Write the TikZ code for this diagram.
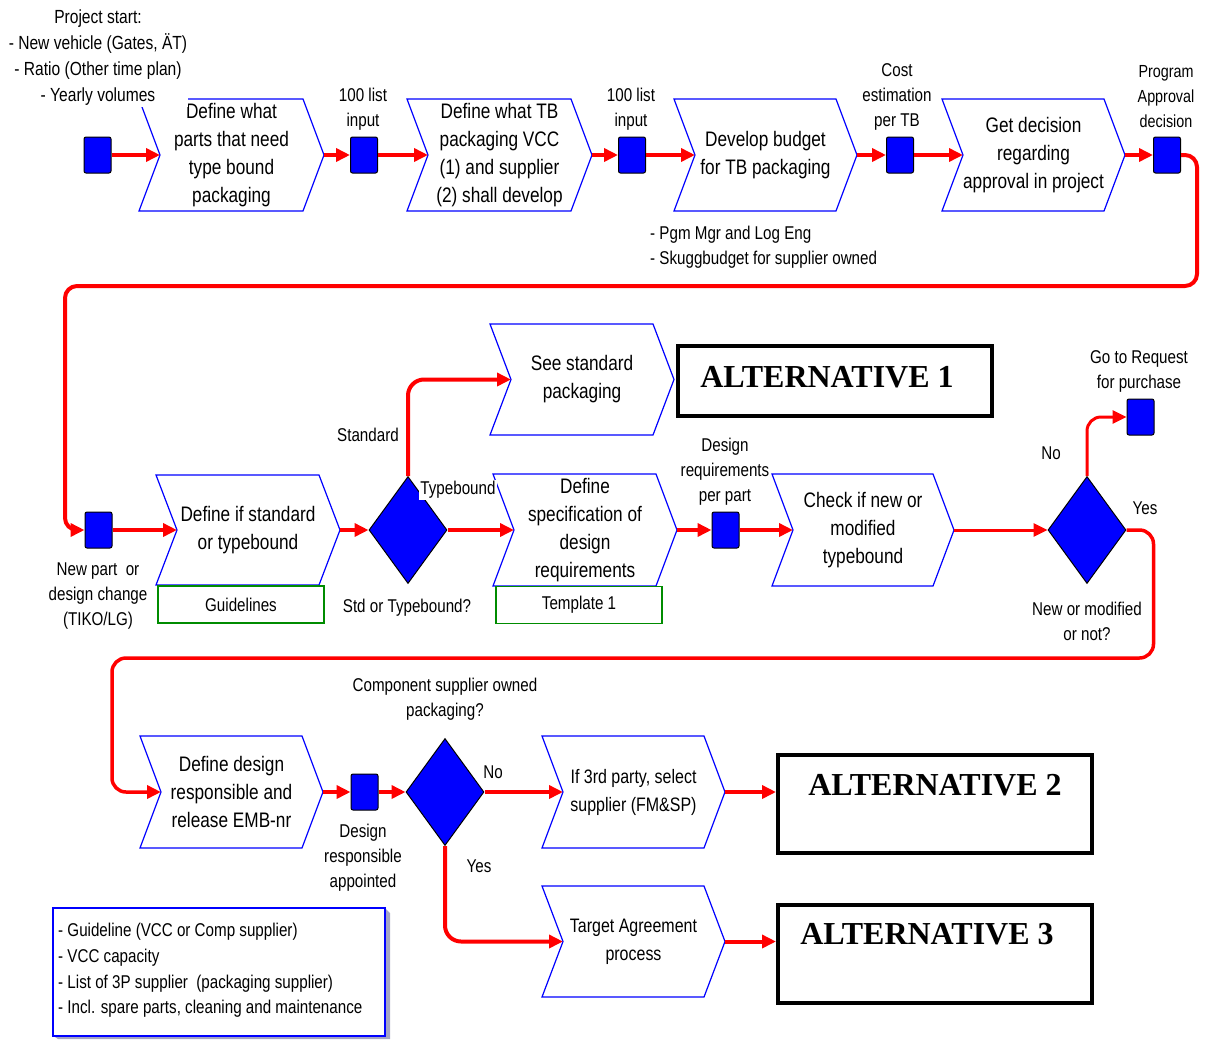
\documentclass[tikz,border=0pt]{standalone}
\usepackage{fontspec}
\setmainfont{Liberation Sans}[FakeStretch=0.82]
\newfontfamily\altfont{Liberation Serif}
\usetikzlibrary{shapes.geometric,arrows.meta}

\definecolor{flowred}{RGB}{255,0,0}
\definecolor{procblue}{RGB}{0,0,255}
\definecolor{docgreen}{RGB}{0,140,0}
\definecolor{shadowgray}{RGB}{165,165,195}

\tikzset{
  flow/.style={draw=flowred, line width=4pt, line join=round,
    -{Triangle[length=14pt,width=13pt]}},
  thinflow/.style={flow, line width=3pt},
  chevline/.style={draw=procblue, line width=1.2pt, line join=miter},
  proctext/.style={align=center, inner sep=0pt, font=\fontsize{21}{28}\selectfont},
  small/.style={align=center, inner sep=0pt, font=\fontsize{18.5}{25}\selectfont},
  event/.style={rectangle, rounded corners=2pt, draw=black, line width=1pt,
    fill=procblue, minimum width=27pt, minimum height=36pt, inner sep=0pt},
  decision/.style={diamond, draw=black, line width=1pt, fill=procblue,
    minimum width=78pt, minimum height=107pt, inner sep=0pt, aspect=0.73},
  docbox/.style={rectangle, draw=docgreen, line width=1.5pt, inner sep=0pt,
    minimum width=166pt, minimum height=37pt, font=\fontsize{18.5}{24}\selectfont},
  altbox/.style={rectangle, draw=black, line width=4pt, inner sep=0pt,
    minimum width=314pt},
  alttext/.style={inner sep=0pt, font=\altfont\bfseries\fontsize{32}{36}\selectfont},
}

% process step drawn as a chevron: name, left x, top y, tip x, bottom y, text
\newcommand{\procbox}[6][]{%
  \draw[chevline] (#3,#4) -- ({#5-21},#4) -- (#5,{(#4+#6)/2}) -- ({#5-21},#6)
     -- (#3,#6) -- ({#3+21},{(#4+#6)/2}) -- cycle;
  \coordinate (#2-in) at ({#3+21},{(#4+#6)/2});
  \coordinate (#2-out) at (#5,{(#4+#6)/2});
  \node[proctext,#1] (#2) at ({(#3+#5)/2},{(#4+#6)/2})}

\begin{document}
\begin{tikzpicture}[x=1pt,y=-1pt]
\useasboundingbox (0,0) rectangle (1207,1039);

% ---------- row 1 ----------
\node[event] (s1) at (97.5,155) {};
\procbox{c1}{139}{99}{324}{211} {Define what\\parts that need\\type bound\\packaging};
\node[small, fill=white, inner sep=1pt, font=\fontsize{19}{26}\selectfont] (start) at (98,58)
  {Project start:\\- New vehicle (Gates, ÄT)\\- Ratio (Other time plan)\\- Yearly volumes};
\node[event] (s2) at (364,155) {};
\node[small] (l2) at (363,109) {100 list\\input};
\procbox{c2}{407}{99}{592}{211} {Define what TB\\packaging VCC\\(1) and supplier\\(2) shall develop};
\node[event] (s3) at (632,155) {};
\node[small] (l3) at (631,109) {100 list\\input};
\procbox{c3}{674}{99}{857}{211} {Develop budget\\for TB packaging};
\node[event] (s4) at (900,155) {};
\node[small] (l4) at (897,97) {Cost\\estimation\\per TB};
\procbox{c4}{942}{99}{1125}{211} {Get decision\\regarding\\approval in project};
\node[event] (s5) at (1167,155) {};
\node[small, font=\fontsize{17.5}{25}\selectfont] (l5) at (1166,97) {Program\\Approval\\decision};

\node[small, align=left, anchor=west] (budgetnote) at (650,247)
  {- Pgm Mgr and Log Eng\\- Skuggbudget for supplier owned};

\draw[flow] (s1.east) -- (c1-in);
\draw[flow] (c1-out) -- (s2.west);
\draw[flow] (s2.east) -- (c2-in);
\draw[flow] (c2-out) -- (s3.west);
\draw[flow] (s3.east) -- (c3-in);
\draw[flow] (c3-out) -- (s4.west);
\draw[flow] (s4.east) -- (c4-in);
\draw[flow] (c4-out) -- (s5.west);

% ---------- row 2 ----------
\node[event] (snp) at (98.5,530) {};
\node[small] (lnp) at (98,596) {New part\ \ or\\design change\\(TIKO/LG)};
\procbox{c6}{156}{475}{340}{585} {Define if standard\\or typebound};
\node[docbox] (guide) at (241,604.5) {Guidelines};
\node[decision] (d1) at (408,530) {};
\node[small] (lstd) at (368,435) {Standard};
\node[small] (lq1) at (407,608) {Std or Typebound?};
\procbox{c5}{490}{324}{674}{435} {See standard\\packaging};
\node[altbox, minimum height=70pt] (alt1) at (835,381) {};
\node[alttext] (alt1t) at (827,377) {ALTERNATIVE 1};
\procbox{c7}{493}{474}{677}{586} {Define\\specification of\\design\\requirements};
\node[small, fill=white, inner sep=1pt] (ltb) at (458,490) {Typebound};
\node[docbox] (templ) at (579,605) {Template 1};
\node[event] (sdr) at (725.5,530) {};
\procbox{c8}{772}{474}{954}{586} {Check if new or\\modified\\typebound};
\node[small, fill=white, inner sep=1pt] (ldr) at (725,472) {Design\\requirements\\per part};
\node[decision] (d2) at (1087,530) {};
\node[event] (sreq) at (1140.5,417) {};
\node[small] (lreq) at (1139,371) {Go to Request\\for purchase};
\node[small] (lno2) at (1051,453) {No};
\node[small] (lyes2) at (1145,508) {Yes};
\node[small] (lq2) at (1087,621) {New or modified\\or not?};

\draw[flow, rounded corners=12pt] (s5.east) -- ++(16,0) |- (65,286) |- (snp.west);
\draw[flow] (snp.east) -- (c6-in);
\draw[flow] (c6-out) -- (d1.west);
\draw[flow, rounded corners=16pt] (d1.north) |- (c5-in);
\draw[flow] (d1.east) -- (c7-in);
\draw[flow] (c7-out) -- (sdr.west);
\draw[flow] (sdr.east) -- (c8-in);
\draw[thinflow] (c8-out) -- (d2.west);
\draw[thinflow, rounded corners=14pt] (d2.north) |- (sreq.west);

% ---------- row 3 ----------
\procbox{c9}{140}{736}{323}{848} {Define design\\responsible and\\release EMB-nr};
\node[event] (sdra) at (364.5,792) {};
\node[small] (ldra) at (363,858) {Design\\responsible\\appointed};
\node[decision] (d3) at (445,792) {};
\node[small] (lq3) at (445,699) {Component supplier owned\\packaging?};
\node[small] (lno3) at (493,772) {No};
\node[small] (lyes3) at (479,866) {Yes};
\procbox[font=\fontsize{19.5}{28}\selectfont]{c10}{542}{736}{725}{848} {If 3rd party, select\\supplier (FM\&SP)};
\procbox[font=\fontsize{19.5}{28}\selectfont]{c11}{542}{886}{725}{997} {Target Agreement\\process};
\node[altbox, minimum height=98pt] (alt2) at (935,804) {};
\node[alttext] (alt2t) at (935,785) {ALTERNATIVE 2};
\node[altbox, minimum height=98pt] (alt3) at (935,954) {};
\node[alttext] (alt3t) at (927,934) {ALTERNATIVE 3};

\draw[thinflow, line width=3.5pt, rounded corners=14pt] (d2.east) -- ++(27,0) |- (112,658) |- (c9-in);
\draw[flow] (c9-out) -- (sdra.west);
\draw[flow] (sdra.east) -- (d3.west);
\draw[flow] (d3.east) -- (c10-in);
\draw[flow, rounded corners=16pt] (d3.south) |- (c11-in);
\draw[flow] (c10-out) -- (c10-out -| alt2.west);
\draw[flow] (c11-out) -- (c11-out -| alt3.west);

% ---------- notes ----------
\fill[shadowgray] (384,907) -- (390,913) -- (390,1039) -- (58,1039) -- (52,1035) -- cycle;
\node[rectangle, draw=procblue, fill=white, line width=1.5pt, anchor=north west,
  minimum width=332pt, minimum height=128pt, inner sep=0pt] (notes) at (52,907) {};
\node[small, align=left, anchor=west, font=\fontsize{18.5}{25.7}\selectfont] (notestext) at (58,970.5)
  {- Guideline (VCC or Comp supplier)\\- VCC capacity\\- List of 3P supplier\ \ (packaging supplier)\\- Incl. spare parts, cleaning and maintenance};

\end{tikzpicture}
\end{document}
